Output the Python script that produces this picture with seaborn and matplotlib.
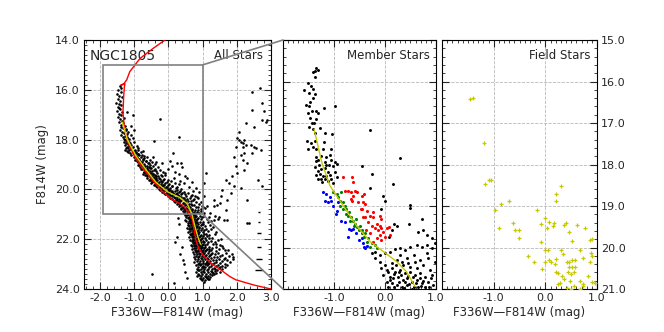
import pandas as pd
import matplotlib
matplotlib.use("Agg")
import matplotlib.pyplot as plt
from matplotlib.patches import Rectangle, ConnectionPatch
from matplotlib.ticker import MultipleLocator, FormatStrFormatter
import seaborn as sns

# ---- panel 1: all stars (F336W-F814W, F814W) ----
all_upper = [
    (-1.42,15.85),(-1.38,15.92),(-1.47,16.02),(-1.40,16.10),(-1.50,16.18),(-1.44,16.25),(-1.36,16.30),
    (-1.48,16.38),(-1.41,16.45),(-1.52,16.52),(-1.45,16.58),(-1.38,16.63),(-1.47,16.70),(-1.42,16.78),
    (-1.50,16.85),(-1.35,16.90),(-1.44,16.96),(-1.39,17.02),(-1.48,17.08),(-1.30,17.12),(-1.42,17.18),
    (-1.36,17.24),(-1.45,17.30),(-1.33,17.35),(-1.40,17.40),(-1.28,17.45),(-1.38,17.50),(-1.32,17.55),
    (-1.42,17.60),(-1.25,17.63),(-1.35,17.68),(-1.30,17.72),(-1.20,17.76),(-1.38,17.80),(-1.27,17.84),
    (-1.33,17.88),(-1.22,17.92),(-1.30,17.96),(-1.15,17.98),(-1.05,17.00),(-1.10,17.45),(-1.00,17.60),
    (-1.22,16.90),(-1.45,16.72),
    (-1.28,18.02),(-1.22,18.05),(-1.16,18.08),(-1.30,18.10),(-1.12,18.12),(-1.25,18.15),(-1.19,18.18),
    (-1.08,18.20),(-1.27,18.22),(-1.14,18.25),(-1.21,18.28),(-1.05,18.30),(-1.17,18.33),(-1.24,18.35),
    (-1.10,18.38),(-0.98,18.40),(-1.15,18.42),(-1.20,18.45),(-1.05,18.48),(-0.95,18.50),(-1.12,18.52),
    (-1.00,18.55),(-0.90,18.58),(-1.08,18.60),(-0.85,18.62),(-0.96,18.65),(-1.02,18.68),(-0.80,18.70),
    (-0.92,18.72),(-0.70,18.74),(-0.88,18.78),(-0.98,18.80),(-0.75,18.82),(-0.84,18.85),(-0.65,18.86),
    (-0.90,18.88),(-0.78,18.90),(-0.60,18.92),(-0.82,18.95),(-0.72,18.97),(-0.88,19.00),(-0.55,19.00),
    (-1.25,17.58),(-1.18,17.70),(-1.10,17.82),(-1.22,17.90),(-1.05,17.92),(-1.00,18.10),(-0.92,18.25),
    (-1.10,18.32),(-0.88,18.40),(-1.00,18.45),(-0.80,18.50),(-0.75,18.45),(-0.90,18.35),(-1.28,18.40),
    (-1.18,18.50),
]
all_mid = [
    (-0.80,19.03),(-0.68,19.05),(-0.74,19.08),(-0.58,19.10),(-0.82,19.12),(-0.64,19.14),(-0.50,19.15),
    (-0.70,19.18),(-0.76,19.20),(-0.60,19.22),(-0.42,19.22),(-0.66,19.25),(-0.55,19.27),(-0.35,19.28),
    (-0.72,19.30),(-0.62,19.32),(-0.52,19.33),(-0.66,19.36),(-0.45,19.37),(-0.58,19.40),(-0.68,19.42),
    (-0.38,19.42),(-0.54,19.44),(-0.48,19.46),(-0.62,19.48),(-0.30,19.48),(-0.42,19.50),(-0.20,19.45),
    (-0.55,19.52),(-0.46,19.54),(-0.36,19.55),(-0.50,19.58),(-0.25,19.58),(-0.40,19.60),(-0.58,19.62),
    (-0.32,19.63),(-0.44,19.65),(-0.15,19.64),(-0.38,19.68),(-0.28,19.70),(-0.48,19.71),(-0.20,19.72),
    (-0.34,19.74),(-0.05,19.70),(-0.40,19.77),(-0.30,19.78),(-0.22,19.80),(-0.12,19.81),(-0.35,19.83),
    (-0.26,19.85),(0.00,19.84),(-0.18,19.87),(-0.32,19.89),(-0.08,19.90),(0.12,19.88),(-0.24,19.92),
    (-0.14,19.94),(0.05,19.95),(-0.28,19.97),(-0.02,19.98),(0.22,19.93),
    (-0.20,20.01),(-0.10,20.02),(0.02,20.04),(0.10,20.05),(-0.15,20.07),(0.18,20.08),(-0.05,20.10),
    (0.08,20.11),(0.30,20.10),(-0.12,20.13),(0.14,20.15),(0.02,20.16),(0.40,20.15),(0.22,20.18),
    (-0.06,20.20),(0.10,20.21),(0.28,20.23),(0.50,20.20),(0.00,20.27),(0.12,20.28),(0.24,20.30),
    (0.36,20.31),(0.06,20.33),(0.18,20.35),(0.45,20.34),(0.30,20.37),(0.10,20.39),(0.22,20.41),
    (0.55,20.38),(0.38,20.43),(0.15,20.45),(0.28,20.47),(0.48,20.48),(0.65,20.45),
    (0.20,20.52),(0.32,20.53),(0.42,20.55),(0.52,20.56),(0.26,20.58),(0.60,20.59),(0.38,20.61),
    (0.48,20.63),(0.70,20.62),(0.30,20.66),(0.56,20.67),(0.44,20.69),(0.64,20.71),(0.80,20.70),
    (0.36,20.73),(0.52,20.74),
    (0.00,19.20),(-0.10,19.35),(0.15,19.55),(0.30,19.40),(0.10,19.05),(0.45,19.75),(0.60,19.90),
    (0.35,19.65),(0.72,20.05),(0.85,20.30),(0.55,19.55),(0.95,20.50),(0.75,20.40),(0.90,20.10),
    (0.20,19.30),(0.65,20.25),(1.00,20.70),(0.50,19.45),(0.80,19.95),(0.40,19.10),(0.70,19.70),
    (-0.20,18.95),(-0.35,18.90),(0.05,18.85),(-0.45,18.70),(0.25,18.95),
]
all_band = [
    (-0.95,18.53),(-0.88,18.57),(-0.78,18.61),(-0.70,18.66),(-0.93,18.69),(-0.62,18.71),(-0.85,18.76),
    (-0.74,18.79),(-0.55,18.81),(-0.92,18.84),(-0.66,18.87),(-0.48,18.89),(-0.80,18.93),(-0.58,18.95),
    (-0.40,18.98),(-0.86,19.02),(-0.62,19.04),(-0.45,19.07),(-0.72,19.10),(-0.30,19.12),(-0.55,19.16),
    (-0.80,19.17),(-0.38,19.19),(-0.64,19.23),(-0.25,19.24),(-0.48,19.26),(-0.70,19.29),(-0.15,19.30),
    (-0.58,19.34),(-0.32,19.35),(-0.75,19.38),(-0.44,19.39),(-0.22,19.41),(-0.62,19.44),(-0.10,19.43),
    (-0.36,19.47),(-0.52,19.49),(-0.62,19.53),(-0.28,19.55),(-0.45,19.57),(-0.12,19.59),(-0.55,19.61),
    (-0.35,19.62),(-0.02,19.62),(-0.48,19.66),(-0.22,19.67),(0.08,19.66),(-0.40,19.71),(-0.10,19.73),
    (0.18,19.74),(-0.52,19.75),(-0.30,19.78),(0.02,19.79),(-0.42,19.82),(-0.16,19.83),(0.30,19.80),
    (-0.36,19.86),(0.10,19.86),(-0.04,19.91),(0.25,19.91),(-0.20,19.95),(0.38,19.97),
    (-0.25,20.03),(0.05,20.02),(0.25,20.03),(-0.02,20.07),(0.35,20.06),(-0.18,20.09),(0.12,20.10),
    (0.45,20.11),(0.00,20.14),(0.26,20.14),(0.58,20.15),(-0.10,20.17),(0.16,20.19),(0.38,20.20),
    (0.68,20.22),(0.05,20.24),(0.32,20.25),(0.52,20.27),(0.78,20.28),(0.16,20.32),(0.42,20.33),
    (0.62,20.36),(0.88,20.35),(0.26,20.40),(0.50,20.41),(0.72,20.42),(0.34,20.46),(0.58,20.47),
    (0.82,20.49),(0.28,20.55),(0.46,20.56),(0.66,20.57),(0.90,20.58),(0.35,20.62),(0.55,20.63),
    (0.76,20.64),(0.98,20.65),(0.42,20.70),(0.60,20.71),(0.86,20.72),(1.08,20.74),(0.48,20.77),
    (0.68,20.78),(0.94,20.79),
]
all_lower = [
    (0.38,20.77),(0.46,20.78),(0.54,20.80),(0.62,20.79),(0.70,20.81),(0.78,20.83),(0.88,20.82),
    (0.42,20.85),(0.50,20.86),(0.58,20.87),(0.66,20.88),(0.74,20.89),(0.84,20.90),(0.96,20.88),
    (0.45,20.93),(0.53,20.94),(0.61,20.95),(0.69,20.96),(0.77,20.97),(0.90,20.96),(1.05,20.95),
    (0.56,20.99),(0.64,21.00),(0.72,20.99),
    (0.48,21.02),(0.55,21.03),(0.62,21.04),(0.68,21.05),(0.75,21.04),(0.82,21.06),(0.92,21.05),
    (1.05,21.07),(0.52,21.09),(0.60,21.10),(0.66,21.11),(0.72,21.12),(0.79,21.11),(0.88,21.13),
    (0.98,21.12),(0.57,21.16),(0.64,21.17),(0.70,21.18),(0.76,21.17),(0.84,21.19),(0.94,21.20),
    (1.12,21.18),(0.50,21.22),(0.62,21.23),(0.68,21.24),(0.74,21.25),(0.80,21.24),
    (0.52,21.27),(0.60,21.28),(0.66,21.29),(0.71,21.30),(0.77,21.29),(0.84,21.31),(0.92,21.30),
    (1.02,21.32),(1.15,21.30),(0.56,21.34),(0.63,21.35),(0.69,21.36),(0.75,21.37),(0.81,21.36),
    (0.88,21.38),(0.97,21.39),(0.58,21.42),(0.65,21.43),(0.72,21.44),(0.78,21.43),(0.85,21.45),
    (0.94,21.44),(1.08,21.46),(1.22,21.42),(0.61,21.48),(0.68,21.49),(0.74,21.50),(0.80,21.49),
    (0.90,21.50),
    (0.55,21.53),(0.63,21.54),(0.70,21.55),(0.76,21.54),(0.82,21.56),(0.89,21.57),(0.98,21.56),
    (1.10,21.58),(0.60,21.60),(0.67,21.61),(0.73,21.62),(0.79,21.61),(0.86,21.63),(0.94,21.64),
    (1.04,21.62),(1.25,21.60),(0.64,21.67),(0.71,21.68),(0.77,21.69),(0.84,21.68),(0.91,21.70),
    (1.00,21.71),(1.15,21.69),(0.58,21.73),(0.68,21.74),(0.75,21.75),(0.82,21.74),(0.88,21.76),
    (0.62,21.78),(0.70,21.79),(0.76,21.80),(0.82,21.79),(0.88,21.81),(0.95,21.82),(1.05,21.81),
    (1.20,21.83),(1.35,21.80),(0.66,21.85),(0.73,21.86),(0.79,21.87),(0.85,21.86),(0.92,21.88),
    (1.00,21.89),(1.12,21.87),(0.60,21.91),(0.69,21.92),(0.76,21.93),(0.83,21.94),(0.90,21.93),
    (0.98,21.95),(1.08,21.96),(1.28,21.94),(0.72,21.98),(0.80,21.99),(0.87,21.98),(0.95,22.00),
    (0.64,22.02),(0.72,22.03),(0.79,22.04),(0.85,22.03),(0.92,22.05),(1.00,22.06),(1.10,22.05),
    (1.25,22.07),(1.45,22.04),(0.68,22.09),(0.76,22.10),(0.83,22.11),(0.89,22.10),(0.96,22.12),
    (1.05,22.13),(1.17,22.11),(1.35,22.12),(0.71,22.16),(0.78,22.17),(0.86,22.18),(0.93,22.17),
    (1.01,22.19),(1.12,22.20),(1.30,22.18),(0.66,22.22),(0.75,22.23),(0.82,22.24),(0.90,22.25),
    (0.98,22.24),(1.08,22.23),(1.50,22.22),
    (0.70,22.27),(0.78,22.28),(0.85,22.29),(0.92,22.28),(0.99,22.30),(1.08,22.31),(1.20,22.30),
    (1.38,22.32),(1.58,22.29),(0.74,22.34),(0.82,22.35),(0.89,22.36),(0.96,22.35),(1.04,22.37),
    (1.14,22.38),(1.28,22.36),(1.48,22.38),(0.68,22.41),(0.77,22.42),(0.86,22.43),(0.94,22.42),
    (1.02,22.44),(1.11,22.45),(1.24,22.43),(1.65,22.42),(0.80,22.48),(0.88,22.49),(0.97,22.50),
    (1.06,22.49),(1.18,22.48),(1.40,22.47),
    (0.72,22.52),(0.81,22.53),(0.89,22.54),(0.97,22.53),(1.05,22.55),(1.15,22.56),(1.28,22.55),
    (1.45,22.57),(1.70,22.55),(0.76,22.59),(0.85,22.60),(0.93,22.61),(1.01,22.60),(1.10,22.62),
    (1.22,22.63),(1.36,22.61),(1.58,22.62),(0.80,22.66),(0.90,22.67),(0.99,22.68),(1.08,22.67),
    (1.18,22.69),(1.32,22.70),(1.52,22.68),(1.78,22.66),(0.74,22.72),(0.86,22.73),(0.95,22.74),
    (1.04,22.73),(1.14,22.75),(1.26,22.74),(1.42,22.72),(1.65,22.74),
    (0.78,22.78),(0.88,22.79),(0.97,22.80),(1.06,22.79),(1.16,22.81),(1.30,22.82),(1.48,22.80),
    (1.72,22.83),(1.88,22.80),(0.83,22.86),(0.93,22.87),(1.02,22.88),(1.12,22.87),(1.23,22.89),
    (1.38,22.90),(1.58,22.88),(0.76,22.93),(0.90,22.94),(1.00,22.95),(1.10,22.94),(1.20,22.96),
    (1.34,22.97),(1.52,22.95),(1.80,22.93),(0.86,22.99),(0.96,23.00),(1.06,23.01),(1.16,23.00),
    (1.28,22.99),(1.45,23.02),
    (0.80,23.04),(0.92,23.05),(1.02,23.06),(1.12,23.05),(1.24,23.07),(1.38,23.08),(1.58,23.06),
    (1.72,23.03),(0.88,23.11),(0.98,23.12),(1.08,23.13),(1.20,23.12),(1.32,23.14),(1.48,23.15),
    (1.65,23.12),(0.84,23.18),(0.95,23.19),(1.05,23.20),(1.16,23.19),(1.28,23.21),(1.42,23.22),
    (1.56,23.20),(0.90,23.25),(1.00,23.26),(1.12,23.25),(1.24,23.27),(1.36,23.26),
    (0.82,23.30),(0.94,23.31),(1.04,23.32),(1.15,23.31),(1.27,23.33),(1.40,23.34),(1.50,23.30),
    (0.88,23.38),(0.99,23.39),(1.10,23.40),(1.21,23.39),(1.33,23.41),(0.85,23.46),(0.96,23.47),
    (1.06,23.48),(1.17,23.47),(1.28,23.45),(0.92,23.54),(1.02,23.55),(1.12,23.56),(1.22,23.53),
    (0.98,23.62),(1.08,23.64),(1.16,23.60),(1.05,23.70),
    (0.30,21.40),(0.25,21.90),(0.40,22.30),(0.35,22.60),(0.45,23.00),(0.50,23.30),(0.28,21.15),
    (0.55,23.55),(0.42,22.85),(0.20,22.10),
    (1.30,21.50),(1.40,21.70),(1.20,21.95),(1.55,22.00),(1.40,22.20),(1.60,22.35),(1.75,22.45),
    (1.85,22.60),(1.90,22.70),(1.62,22.80),(1.40,22.85),(1.66,22.98),(1.50,23.10),(1.35,23.18),
    (1.30,23.35),(1.20,23.60),(1.10,23.52),(0.95,23.58),(0.90,23.42),(1.45,21.20),(1.35,21.05),
    (1.18,21.10),(1.25,21.25),(1.00,21.40),(1.10,21.78),(1.18,22.40),(1.25,22.60),(1.12,22.90),
    (1.00,23.10),(0.88,23.22),
]
all_sparse = [
    (2.69,15.94),(2.44,16.07),(2.46,16.81),(2.75,16.54),(2.80,16.87),(2.26,17.34),(2.51,17.48),
    (2.75,17.21),(2.85,17.28),(2.90,17.21),(2.07,17.68),(2.02,17.94),(2.07,18.01),(2.12,18.08),
    (2.17,18.14),(2.21,18.01),(2.26,18.21),(2.17,18.28),(1.97,18.28),(2.41,18.21),(2.51,18.28),
    (2.56,18.34),(2.70,18.41),(2.46,18.55),(2.21,18.55),(2.12,18.61),(1.92,18.68),(2.17,18.81),
    (2.31,18.95),(1.97,19.08),(2.21,19.21),(2.02,19.35),(1.87,19.48),(1.68,19.61),(1.77,19.75),
    (1.92,19.88),(2.12,19.95),(1.58,20.02),(1.82,20.15),(1.53,20.28),(1.72,20.42),(1.33,20.42),
    (1.43,20.62),(1.68,20.82),(1.23,20.95),(1.14,20.68),(1.48,21.09),(2.36,21.35),(1.63,21.22),
    (1.33,21.22),(1.04,20.28),(1.04,19.75),(1.09,19.35),(2.61,19.61),(2.75,19.88),(2.31,20.42),
    (2.30,21.35),(1.72,21.22),(1.52,20.55),(1.32,20.68),
    (-0.49,23.40),(0.15,23.76),(-0.26,17.18),(0.30,17.88),(-0.41,18.04),(0.13,18.55),(0.37,18.95),
]
iso_color = [-0.10, -0.44, -0.83, -1.13, -1.22, -1.30, -1.40, -1.35, -1.27, -1.29, -1.31, -1.33,
             -1.29, -1.20, -1.02, -0.78, -0.48, -0.20, 0.10, 0.40, 0.56, 0.70, 0.75, 0.80, 0.88,
             1.04, 1.25, 1.50, 1.80, 1.97, 2.10, 2.50, 3.00]
iso_mag = [14.00, 14.33, 14.74, 15.27, 15.60, 15.75, 15.82, 15.80, 15.76, 15.90, 16.30, 16.90,
           17.50, 18.05, 18.60, 19.10, 19.60, 20.05, 20.40, 20.62, 20.85, 21.20, 21.60, 22.00,
           22.35, 22.69, 22.98, 23.20, 23.50, 23.63, 23.68, 23.84, 24.00]
fit1_color = [-1.35, -1.20, -0.95, -0.66, -0.36, -0.02, 0.34, 0.55, 0.68, 0.78, 0.86, 0.94]
fit1_mag = [17.30, 18.00, 18.65, 19.20, 19.72, 20.10, 20.33, 20.58, 20.95, 21.50, 21.90, 22.20]
err_mag = [20.90, 21.30, 21.75, 22.30, 22.80, 23.25]
err_size = [0.03, 0.04, 0.05, 0.07, 0.09, 0.11]

# ---- panel 2: member stars ----
mem_black = [
    (-1.35,15.68),(-1.32,15.72),(-1.37,15.74),(-1.42,15.78),(-1.38,15.90),(-1.51,16.04),(-1.46,16.12),
    (-1.58,16.21),(-1.41,16.18),(-1.49,16.28),(-1.38,16.29),(-1.42,16.40),(-1.48,16.50),(-1.54,16.56),
    (-1.49,16.59),(-1.20,16.63),(-0.99,16.59),(-1.44,16.71),(-1.51,16.75),(-1.35,16.71),(-1.31,16.75),
    (-1.48,16.87),(-1.35,16.91),(-1.44,16.99),(-1.40,16.99),(-1.49,17.09),(-1.42,17.14),(-1.27,17.11),
    (-1.18,17.25),(-1.38,17.25),(-1.03,17.27),(-1.53,17.43),(-1.38,17.43),(-1.46,17.47),(-1.20,17.46),
    (-1.51,17.62),(-1.42,17.59),(-1.35,17.63),(-1.22,17.63),(-1.05,17.63),(-1.36,17.83),(-1.31,17.89),
    (-1.25,17.79),(-1.16,17.81),(-1.08,17.78),(-1.05,17.89),(-0.99,17.93),(-1.16,18.01),(-1.10,18.01),
    (-1.18,17.95),(-1.29,18.01),(-1.02,18.03),(-1.35,17.91),(-1.38,18.07),(-1.25,18.11),(-1.31,18.15),
    (-1.18,18.09),(-1.12,18.17),(-1.28,18.23),(-1.22,18.27),(-1.35,18.25),(-1.15,18.28),(-1.08,18.25),
    (-0.99,18.19),(-0.95,17.99),(-1.25,18.35),(-1.31,18.36),(-1.18,18.36),(-1.12,18.39),(-1.05,18.35),
    (-0.95,18.31),(-1.23,18.43),(-1.02,18.44),(-0.46,18.03),(-0.29,17.17),(0.29,17.85),
    (-0.26,18.23),(-0.29,18.57),(0.15,18.47),(-0.03,18.75),(0.00,18.87),(0.50,18.97),(0.50,19.05),
    (-0.08,19.08),(0.48,19.43),(0.72,19.32),(0.18,19.43),(0.23,19.47),(0.13,19.58),(0.07,19.74),
    (0.65,19.62),(0.75,19.58),(0.82,19.70),(0.92,19.78),(0.98,19.90),(0.62,19.94),(0.72,19.98),
    (0.82,20.14),(0.49,19.98),(0.39,20.06),(0.29,20.02),(0.20,20.04),(0.10,20.10),(0.00,20.14),
    (-0.10,20.18),(-0.20,20.10),(-0.26,20.14),(0.29,20.18),(0.43,20.26),(0.56,20.18),(0.69,20.30),
    (0.85,20.26),(0.98,20.34),(0.23,20.30),(0.13,20.38),(0.00,20.42),(0.36,20.42),(0.49,20.46),
    (0.62,20.50),(0.75,20.42),(0.88,20.54),(-0.07,20.50),(0.03,20.54),(0.13,20.50),(0.20,20.58),
    (0.29,20.54),(0.39,20.62),(0.49,20.58),(0.59,20.66),(0.69,20.62),(0.78,20.70),(0.92,20.66),
    (-0.03,20.66),(0.09,20.70),(0.16,20.74),(0.26,20.70),(0.35,20.78),(0.43,20.74),(0.52,20.82),
    (0.62,20.78),(0.72,20.86),(0.85,20.82),(0.95,20.90),(0.13,20.86),(0.23,20.90),(0.33,20.94),
    (0.43,20.90),(0.56,20.94),(0.65,20.96),(0.78,20.94),(0.03,20.82),(0.22,20.42),(0.33,20.34),
    (0.46,20.38),(0.59,20.34),(-0.10,20.34),(-0.20,20.26),(0.82,19.94),(0.92,20.02),
    (0.06,20.60),(0.18,20.64),(0.32,20.66),(0.45,20.68),(0.55,20.72),(0.68,20.74),(0.10,20.78),
    (0.28,20.82),(0.40,20.84),(0.48,20.88),(0.60,20.86),(0.75,20.80),(0.90,20.74),(0.18,20.96),
    (0.38,20.98),(0.52,20.99),(0.70,20.92),(0.86,20.96),(0.05,20.94),(0.28,20.60),
]
mem_blue = [
    (-1.22,18.67),(-1.15,18.71),(-1.18,18.87),(-1.08,18.79),(-1.12,18.91),(-1.02,18.99),(-0.95,19.11),
    (-0.97,19.19),(-0.86,19.35),(-0.79,19.39),(-0.71,19.55),(-0.66,19.57),(-0.63,19.55),(-0.73,19.74),
    (-0.56,19.66),(-0.50,19.82),(-0.44,19.90),(-0.92,18.91),(-1.05,18.87),(-0.46,19.78),(-0.42,19.98),
    (-0.39,20.02),(-0.36,19.96),
]
mem_green = [
    (-1.02,18.67),(-0.95,18.71),(-0.86,18.67),(-0.92,18.79),(-0.88,18.87),(-0.82,18.91),(-0.79,18.99),
    (-0.76,19.07),(-0.71,19.15),(-0.73,19.23),(-0.66,19.27),(-0.63,19.35),(-0.59,19.43),(-0.55,19.51),
    (-0.51,19.58),(-0.46,19.66),(-0.77,19.19),(-0.69,19.35),(-0.61,19.47),(-0.56,19.31),(-0.82,19.07),
    (-0.89,18.99),(-0.49,19.47),(-0.46,19.58),(-0.39,19.66),(-0.33,19.78),(-0.26,19.90),(-0.42,19.74),
    (-0.36,19.86),(-0.20,19.94),(-0.29,19.98),(-0.16,20.02),
]
mem_red = [
    (-0.82,18.31),(-0.64,18.31),(-0.63,18.43),(-0.79,18.63),(-0.73,18.65),(-0.66,18.67),(-0.59,18.65),
    (-0.55,18.67),(-0.63,18.76),(-0.66,18.83),(-0.64,18.87),(-0.53,18.91),(-0.48,19.07),(-0.46,18.75),
    (-0.44,19.27),(-0.42,18.71),(-0.44,18.91),(-0.39,18.95),(-0.46,19.07),(-0.36,19.11),(-0.39,19.27),
    (-0.29,19.23),(-0.23,19.27),(-0.33,19.39),(-0.26,19.47),(-0.16,19.43),(-0.10,19.47),(-0.20,19.54),
    (-0.13,19.58),(-0.07,19.54),(-0.03,19.62),(0.03,19.54),(0.07,19.50),(-0.10,19.70),(0.00,19.74),
    (0.10,19.70),(-0.16,19.78),(-0.07,19.82),(-0.23,19.86),(-0.29,19.66),(-0.37,19.58),(-0.10,19.23),
    (-0.08,19.31),(-0.23,19.15),
]
fit2_color = [-1.39, -1.24, -1.08, -0.82, -0.56, -0.29, -0.03, 0.23, 0.42, 0.59]
fit2_mag = [17.15, 17.95, 18.51, 18.99, 19.47, 19.86, 20.10, 20.34, 20.58, 20.94]

# ---- panel 3: field stars ----
field_stars = [
    (-1.45,16.41),(-1.40,16.40),(-1.19,17.49),(-1.10,18.37),(-1.05,18.38),(-1.17,18.46),(-0.70,18.88),
    (-0.86,18.94),(-0.97,19.09),(-0.89,19.52),(-0.62,19.41),(-0.59,19.58),(-0.51,19.57),(-0.51,19.77),
    (-0.17,19.10),(0.00,19.29),(-0.09,19.44),(0.08,19.39),(0.03,19.54),(0.16,19.41),(0.15,19.49),
    (0.30,18.51),(0.20,18.71),(0.20,18.89),(0.36,19.46),(0.40,19.42),(0.46,19.62),(0.62,19.46),
    (0.76,19.53),(-0.08,19.87),(0.51,19.85),(0.86,19.83),(0.91,19.80),(-0.33,20.20),(-0.21,20.36),
    (-0.07,20.52),(0.00,20.05),(0.06,20.07),(0.31,20.06),(0.68,20.06),(0.88,20.14),(0.91,20.20),
    (0.00,20.34),(0.08,20.29),(0.11,20.34),(0.20,20.27),(0.19,20.39),(0.20,20.60),(0.24,20.62),
    (0.35,20.16),(0.41,20.36),(0.46,20.36),(0.51,20.31),(0.58,20.30),(0.45,20.46),(0.52,20.48),
    (0.57,20.48),(0.43,20.60),(0.49,20.64),(0.55,20.59),(0.32,20.68),(0.28,20.86),(0.25,20.88),
    (0.37,20.76),(0.48,20.80),(0.55,20.92),(0.67,20.80),(0.73,20.87),(0.83,20.68),(0.91,20.84),
    (0.97,20.86),(0.41,20.97),(0.50,20.99),(0.68,20.99),(0.72,20.93),(0.72,20.25),(0.86,20.34),
]


def to_frame(pairs):
    return pd.DataFrame(pairs, columns=["color", "mag"])


sns.set_style("ticks")
plt.rcParams['font.family'] = ['DejaVu Sans']
plt.rcParams['axes.unicode_minus'] = False

fig = plt.figure(figsize=(6.64, 3.32), dpi=100)
ax1 = fig.add_axes([0.1265, 0.1295, 0.2815, 0.75])
ax2 = fig.add_axes([0.4262, 0.1295, 0.2304, 0.75])
ax3 = fig.add_axes([0.6657, 0.1295, 0.2334, 0.75])

# panel 1
all_df = to_frame(all_upper + all_mid + all_band + all_lower + all_sparse)
sns.scatterplot(data=all_df, x="color", y="mag", ax=ax1, s=3.5, color="black",
                linewidth=0, legend=False, zorder=3)
sns.lineplot(x=iso_color, y=iso_mag, ax=ax1, sort=False, estimator=None,
             color="red", lw=1.0, zorder=4)
sns.lineplot(x=fit1_color, y=fit1_mag, ax=ax1, sort=False, estimator=None,
             color="#d8d800", lw=1.0, zorder=5)
ax1.errorbar([2.65] * len(err_mag), err_mag, xerr=err_size, fmt="none",
             ecolor="black", elinewidth=1, capsize=0, zorder=3)
ax1.add_patch(Rectangle((-1.9, 15.0), 2.9, 6.0, fill=False, ec="#808080", lw=1.2, zorder=6))
ax1.set_xlim(-2.47, 3.0)
ax1.set_ylim(24.0, 14.0)
ax1.text(0.03, 0.965, "NGC1805", transform=ax1.transAxes, fontsize=10, va="top", ha="left")
ax1.text(0.96, 0.965, "All Stars", transform=ax1.transAxes, fontsize=8.5, va="top", ha="right")
ax1.xaxis.set_major_locator(MultipleLocator(1.0))
ax1.xaxis.set_minor_locator(MultipleLocator(0.2))
ax1.yaxis.set_major_locator(MultipleLocator(2.0))
ax1.yaxis.set_minor_locator(MultipleLocator(0.2))

# panel 2
sns.scatterplot(data=to_frame(mem_black), x="color", y="mag", ax=ax2, s=4.5, color="black",
                linewidth=0, legend=False, zorder=3)
for pts, col in [(mem_blue, "blue"), (mem_green, "green"), (mem_red, "red")]:
    sns.scatterplot(data=to_frame(pts), x="color", y="mag", ax=ax2, s=5, color=col,
                    linewidth=0, legend=False, zorder=4)
sns.lineplot(x=fit2_color, y=fit2_mag, ax=ax2, sort=False, estimator=None,
             color="#c8c800", lw=1.0, zorder=5)
ax2.text(0.96, 0.965, "Member Stars", transform=ax2.transAxes, fontsize=8.5, va="top", ha="right")
ax2.tick_params(labelleft=False)

# panel 3
sns.scatterplot(data=to_frame(field_stars), x="color", y="mag", ax=ax3, s=12, marker="+",
                color="#c8c800", linewidth=0.9, legend=False, zorder=3)
ax3.text(0.96, 0.965, "Field Stars", transform=ax3.transAxes, fontsize=8.5, va="top", ha="right")
ax3.tick_params(labelleft=False, labelright=True)

for ax in (ax2, ax3):
    ax.set_xlim(-2.0, 1.0)
    ax.set_ylim(21.0, 15.0)
    ax.set_xticks([-1.0, 0.0, 1.0])
    ax.xaxis.set_minor_locator(MultipleLocator(0.1))
    ax.yaxis.set_major_locator(MultipleLocator(1.0))
    ax.yaxis.set_minor_locator(MultipleLocator(0.2))
    ax.set_ylabel("")

for ax in (ax1, ax2, ax3):
    ax.set_xlabel("F336W\u2014F814W (mag)", fontsize=8.5, labelpad=2)
    ax.xaxis.set_major_formatter(FormatStrFormatter("%.1f"))
    ax.yaxis.set_major_formatter(FormatStrFormatter("%.1f"))
    ax.tick_params(which="both", direction="in", top=True, right=True, labelsize=8, pad=3)
    ax.tick_params(which="major", length=5, width=0.8)
    ax.tick_params(which="minor", length=2.5, width=0.6)
    ax.grid(True, which="major", ls="--", color="#b8b8b8", lw=0.6)
    ax.set_axisbelow(True)
    for sp in ax.spines.values():
        sp.set_color("black")
        sp.set_linewidth(0.8)

ax1.set_ylabel("F814W (mag)", fontsize=8.5)

# zoom connectors
for ya in (15.0, 21.0):
    con = ConnectionPatch(xyA=(1.0, ya), coordsA=ax1.transData,
                          xyB=(-2.0, ya), coordsB=ax2.transData,
                          color="#808080", lw=1.2)
    fig.add_artist(con)

fig.savefig("out.png", dpi=100)
